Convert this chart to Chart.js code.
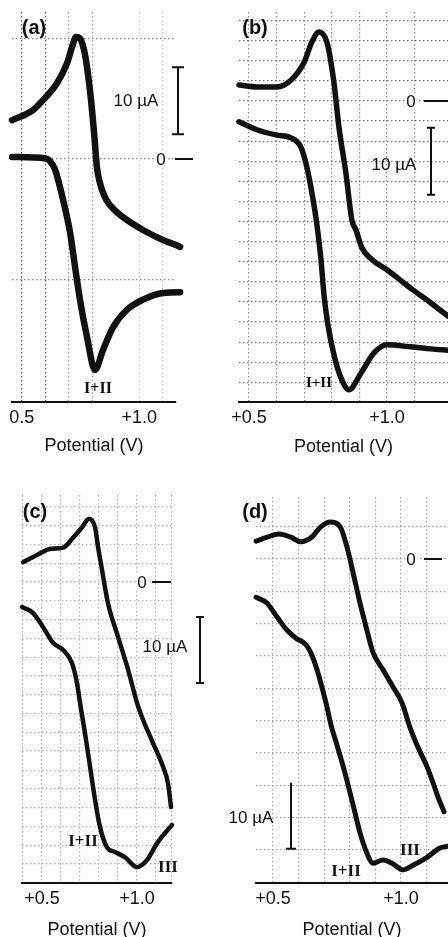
<!DOCTYPE html>
<html>
<head>
<meta charset="utf-8">
<script src="https://cdn.jsdelivr.net/npm/chart.js@4/dist/chart.umd.min.js"></script>
<style>
html,body{margin:0;padding:0;background:#fff;overflow:hidden}
#wrap{position:relative;width:448px;height:937px;overflow:hidden;background:#fff}
canvas{position:absolute;display:block}
</style>
</head>
<body>
<div id="wrap">
<canvas id="ca" width="224" height="465" style="left:0;top:0"></canvas>
<canvas id="cb" width="224" height="465" style="left:224px;top:0"></canvas>
<canvas id="cc" width="224" height="480" style="left:0;top:465px"></canvas>
<canvas id="cd" width="224" height="480" style="left:224px;top:465px"></canvas>
</div>
<script>
// ---------- Panel (a) ----------
const aUpperV = [0.459,0.548,0.599,0.650,0.693,0.714,0.731,0.748,0.765,0.778,0.795,0.808,0.820,0.833,0.854,0.876,0.910,0.948,1.016,1.101,1.174,1.238];
const aUpperI = [5.8,7.3,9.1,11.3,14.3,16.7,18.2,18.0,16.3,13.7,8.8,3.9,-1.2,-3.6,-5.7,-6.9,-8.1,-9.1,-10.6,-12.1,-13.1,-14.6];
const aLowerV = [0.459,0.599,0.620,0.642,0.676,0.706,0.727,0.748,0.778,0.812,0.846,0.889,0.948,1.016,1.101,1.174,1.238];
const aLowerI = [0.3,0.1,-0.3,-1.6,-6.1,-11.0,-16.1,-21.0,-26.6,-31.5,-28.5,-25.1,-22.5,-21.0,-20.0,-19.9,-20.0];
const aGridV = [0.5,0.6,0.7,0.8,1.0,1.1];
const aGridI = [18,0,-18];
const aTickV = [0.5,1.0];
const aTickText = ['0.5','+1.0'];

// ---------- Panel (b) ----------
const bUpperV = [0.464,0.529,0.601,0.652,0.699,0.728,0.754,0.783,0.808,0.826,0.851,0.873,0.888,0.909,0.946,1.000,1.047,1.094,1.145,1.192,1.221];
const bUpperI = [2.4,2.1,2.1,3.1,5.7,8.8,10.3,8.7,2.7,-3.9,-10.7,-17.8,-19.3,-21.9,-23.7,-25.2,-26.7,-28.2,-29.7,-31.2,-32.1];
const bLowerV = [0.464,0.529,0.601,0.652,0.688,0.710,0.728,0.746,0.761,0.772,0.786,0.808,0.833,0.862,0.906,0.953,1.000,1.087,1.159,1.221];
const bLowerI = [-3.1,-4.3,-5.1,-5.5,-6.9,-9.9,-13.7,-18.4,-23.7,-29.0,-33.4,-37.9,-41.3,-43.1,-40.6,-37.6,-36.4,-36.7,-37.0,-37.2];
const bGridV = [0.5,0.6,0.7,0.8,0.9,1.0,1.1];
const bGridI = [12,9,6,3,0,-3,-6,-9,-12,-15,-18,-21,-24,-27,-30,-33,-36,-39,-42];
const bTickV = [0.5,1.0];
const bTickText = ['+0.5','+1.0'];

// ---------- Panel (c) ----------
const cUpperV = [0.400,0.474,0.542,0.611,0.663,0.711,0.747,0.779,0.795,0.816,0.847,0.900,0.953,1.000,1.032,1.084,1.137,1.163,1.179];
const cUpperI = [3.0,4.1,5.0,5.2,6.7,8.3,9.6,8.3,5.3,1.8,-3.2,-8.3,-13.3,-18.3,-20.9,-24.4,-28.0,-30.5,-34.1];
const cLowerV = [0.395,0.453,0.505,0.558,0.611,0.658,0.684,0.700,0.726,0.753,0.779,0.805,0.842,0.884,0.937,1.000,1.053,1.105,1.184];
const cLowerI = [-3.8,-4.7,-6.8,-9.2,-10.3,-12.3,-15.3,-18.3,-22.9,-28.0,-33.0,-37.1,-40.2,-40.9,-41.7,-43.2,-42.1,-39.6,-36.8];
const cGridV = [0.4,0.5,0.6,0.7,0.8,0.9,1.0,1.1,1.18];
const cGridI = [11.4,8.5,5.7,2.8,0,-2.8,-5.7,-8.5,-11.4,-14.2,-17.1,-19.9,-22.8,-25.6,-28.5,-31.3,-34.2,-37.0,-39.9,-42.7];
const cTickV = [0.5,1.0];
const cTickText = ['+0.5','+1.0'];

// ---------- Panel (d) ----------
const dUpperV = [0.434,0.477,0.523,0.570,0.609,0.648,0.688,0.723,0.762,0.789,0.813,0.840,0.867,0.891,0.930,0.969,1.004,1.035,1.066,1.102,1.125,1.145,1.168];
const dUpperI = [2.7,3.3,3.8,3.3,2.6,3.2,4.9,5.6,4.9,1.8,-2.1,-6.7,-10.8,-14.2,-16.8,-19.4,-21.8,-25.5,-28.5,-31.5,-33.9,-36.1,-38.3];
const dLowerV = [0.434,0.477,0.516,0.555,0.590,0.629,0.652,0.672,0.691,0.707,0.727,0.750,0.781,0.813,0.840,0.867,0.891,0.930,0.965,1.008,1.047,1.102,1.152,1.184];
const dLowerI = [-5.8,-6.7,-8.8,-10.8,-12.0,-13.0,-14.6,-16.8,-19.4,-21.8,-25.2,-28.2,-32.4,-37.3,-41.5,-44.6,-46.1,-45.6,-46.1,-47.1,-46.4,-45.2,-43.8,-43.5];
const dGridV = [0.5,0.6,0.7,0.8,0.9,1.0,1.1];
const dGridI = [4.9,0,-4.9,-9.8,-14.7,-19.6,-24.5,-29.4,-34.3,-39.2,-44.1];
const dTickV = [0.5,1.0];
const dTickText = ['+0.5','+1.0'];

const SCALE_BAR_UA = 10;
const SANS = '"Liberation Sans", Arial, Helvetica, sans-serif';
const SERIF = '"Liberation Serif", "Times New Roman", Times, serif';
Chart.defaults.font.family = SANS;
Chart.defaults.color = '#111';

function pts(V, I){ return V.map((v,i)=>({x:v, y:I[i]})); }

function makePanel(cfg){
  const annot = {
    id:'annot'+cfg.id,
    afterDraw(chart){
      const ctx = chart.ctx, ys = chart.scales.y;
      ctx.save();
      ctx.fillStyle = '#111'; ctx.strokeStyle = '#111';
      ctx.textAlign = 'center'; ctx.textBaseline = 'middle';
      // panel letter
      ctx.font = 'bold 20px ' + SANS;
      ctx.fillText(cfg.letter, cfg.letterPos[0], cfg.letterPos[1]);
      // zero marker
      const y0 = ys.getPixelForValue(0);
      ctx.font = '17px ' + SANS;
      ctx.fillStyle = '#fff'; ctx.fillRect(cfg.zeroX-6, y0-8, 12, 16);
      ctx.fillStyle = '#111';
      ctx.fillText('0', cfg.zeroX, y0+1);
      ctx.lineWidth = 2;
      ctx.beginPath(); ctx.moveTo(cfg.zeroDash[0], y0); ctx.lineTo(cfg.zeroDash[1], y0); ctx.stroke();
      // scale bar
      const yb0 = ys.getPixelForValue(cfg.barBase);
      const yb1 = ys.getPixelForValue(cfg.barBase + SCALE_BAR_UA);
      ctx.lineWidth = 2;
      ctx.beginPath(); ctx.moveTo(cfg.barX, yb0); ctx.lineTo(cfg.barX, yb1); ctx.stroke();
      ctx.beginPath();
      ctx.moveTo(cfg.barX-cfg.barCap, yb0); ctx.lineTo(cfg.barX+cfg.barCap, yb0);
      if (cfg.topCap){ ctx.moveTo(cfg.barX-cfg.barCap, yb1); ctx.lineTo(cfg.barX+cfg.barCap, yb1); }
      ctx.stroke();
      ctx.font = '17px ' + SANS;
      ctx.fillText('10 \u00B5A', cfg.barText[0], cfg.barText[1]);
      // peak labels
      cfg.romans.forEach(r=>{
        ctx.font = 'bold ' + r[3] + 'px ' + SERIF;
        ctx.fillText(r[0], r[1], r[2]);
      });
      ctx.restore();
    }
  };
  return new Chart(document.getElementById(cfg.id), {
    type:'scatter',
    data:{datasets:[
      {data:pts(cfg.uV,cfg.uI), showLine:true, borderColor:'#111', borderWidth:cfg.lw, pointRadius:0, cubicInterpolationMode:'monotone', clip:false, borderCapStyle:'round', borderJoinStyle:'round'},
      {data:pts(cfg.lV,cfg.lI), showLine:true, borderColor:'#111', borderWidth:cfg.lw, pointRadius:0, cubicInterpolationMode:'monotone', clip:false, borderCapStyle:'round', borderJoinStyle:'round'}
    ]},
    options:{
      responsive:false, animation:false, events:[],
      layout:{padding:cfg.pad},
      plugins:{legend:{display:false}, tooltip:{enabled:false}},
      scales:{
        x:{type:'linear', position:'bottom', min:cfg.xMin, max:cfg.xMax,
          afterBuildTicks:s=>{ s.ticks = cfg.gridV.map(v=>({value:v})); },
          afterFit:s=>{ s.height = cfg.axisH; s.paddingLeft = 0; s.paddingRight = 0; },
          ticks:{autoSkip:false, maxRotation:0, minRotation:0, padding:5, color:'#111', font:{size:18},
            callback:(v)=>{ const k = cfg.tickV.findIndex(t=>Math.abs(t-v)<1e-6); return k>=0 ? cfg.tickText[k] : ''; }},
          grid:{drawTicks:false, lineWidth:1.2, color:(c)=>cfg.gridColX(c.tick ? c.tick.value : 0)},
          border:{display:true, color:'#111', width:2, dash:[1.5,2.5]},
          title:{display:true, text:'Potential (V)', color:'#111', font:{size:18}, padding:{top:0, bottom:cfg.titlePad}}
        },
        y:{type:'linear', position:'left', min:cfg.yMin, max:cfg.yMax,
          afterBuildTicks:s=>{ s.ticks = cfg.gridI.map(v=>({value:v})); },
          afterFit:s=>{ s.width = 0; s.paddingTop = 0; s.paddingBottom = 0; },
          ticks:{display:false},
          grid:{drawTicks:false, lineWidth:1.2, color:cfg.gridColY},
          border:{display:false, dash:[1.5,2.5]}
        }
      }
    },
    plugins:[annot]
  });
}

makePanel({id:'ca', uV:aUpperV, uI:aUpperI, lV:aLowerV, lI:aLowerI, gridV:aGridV, gridI:aGridI, tickV:aTickV, tickText:aTickText,
  xMin:0.4587, xMax:1.1566, yMin:-36.27, yMax:21.94, pad:{left:12,right:48,top:12,bottom:0}, axisH:63, titlePad:8, lw:6.5,
  gridColX:v=> v<0.65 ? '#555' : (v<0.85 ? '#999' : '#c8c8c8'), gridColY:'#888',
  letter:'(a)', letterPos:[34,28], zeroX:161, zeroDash:[175,193], barX:178, barBase:3.7, barCap:6, topCap:true, barText:[136,101],
  romans:[['I+II',98,389,16]]});

makePanel({id:'cb', uV:bUpperV, uI:bUpperI, lV:bLowerV, lI:bLowerI, gridV:bGridV, gridI:bGridI, tickV:bTickV, tickText:bTickText,
  xMin:0.464, xMax:1.221, yMin:-44.93, yMax:13.28, pad:{left:15,right:0,top:12,bottom:0}, axisH:63, titlePad:7, lw:5.5,
  gridColX:v=>'#888', gridColY:'#777',
  letter:'(b)', letterPos:[31,28], zeroX:187, zeroDash:[200,224], barX:207, barBase:-14.0, barCap:4, topCap:true, barText:[170,165],
  romans:[['I+II',95,383,15]]});

makePanel({id:'cc', uV:cUpperV, uI:cUpperI, lV:cLowerV, lI:cLowerI, gridV:cGridV, gridI:cGridI, tickV:cTickV, tickText:cTickText,
  xMin:0.3947, xMax:1.184, yMin:-45.6, yMax:13.18, pad:{left:22,right:52,top:30,bottom:0}, axisH:62, titlePad:4, lw:4.5,
  gridColX:v=>'#b0b0b0', gridColY:'#b0b0b0',
  letter:'(c)', letterPos:[35,47], zeroX:142, zeroDash:[152,171], barX:200, barBase:-15.3, barCap:4, topCap:true, barText:[165,182],
  romans:[['I+II',83,377,17],['III',168,403,17]]});

makePanel({id:'cd', uV:dUpperV, uI:dUpperI, lV:dLowerV, lI:dLowerI, gridV:dGridV, gridI:dGridI, tickV:dTickV, tickText:dTickText,
  xMin:0.4336, xMax:1.1836, yMin:-49.09, yMax:9.39, pad:{left:32,right:0,top:32,bottom:0}, axisH:62, titlePad:4, lw:5,
  gridColX:v=>'#a0a0a0', gridColY:'#a0a0a0',
  letter:'(d)', letterPos:[31,47], zeroX:187, zeroDash:[200,218], barX:67, barBase:-43.9, barCap:5, topCap:false, barText:[27,353],
  romans:[['I+II',122,407,17],['III',186,386,17]]});
</script>
</body>
</html>
